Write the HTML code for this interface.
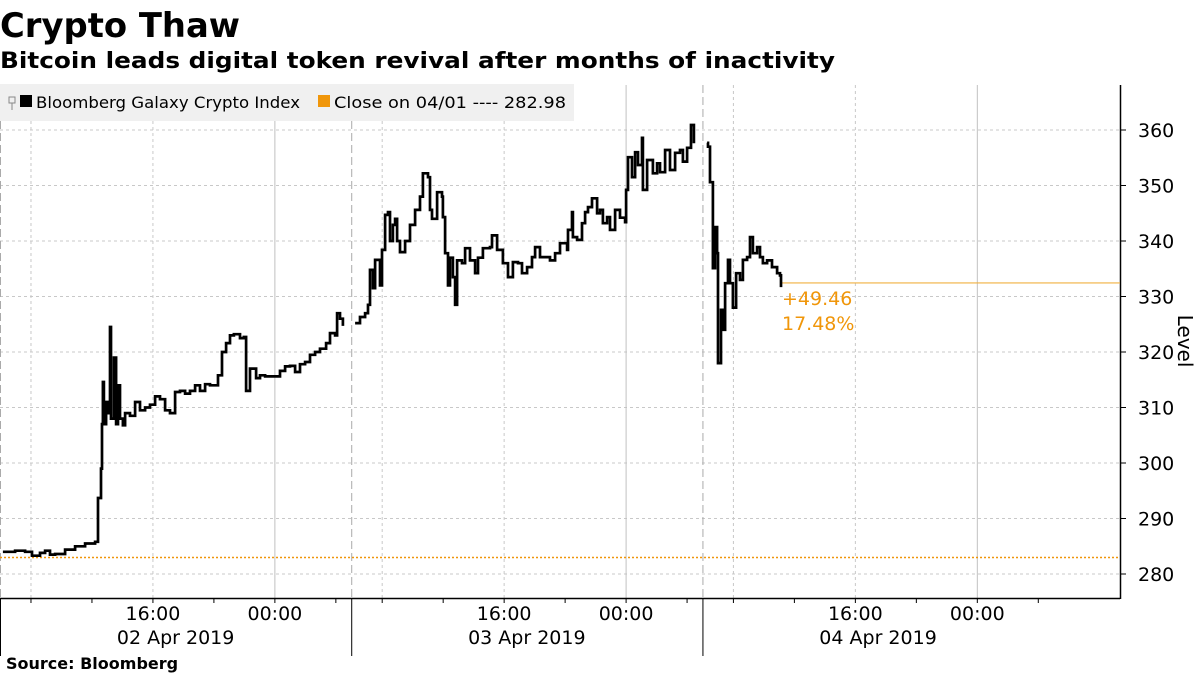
<!DOCTYPE html>
<html><head><meta charset="utf-8"><style>
html,body{margin:0;padding:0;background:#fff;}
svg{display:block;}
text{font-family:"DejaVu Sans","Liberation Sans",sans-serif;}
</style></head><body>
<svg id="chart" width="1200" height="675" viewBox="0 0 1200 675">
<text x="0" y="37" font-size="34" font-weight="bold" textLength="240" lengthAdjust="spacingAndGlyphs">Crypto Thaw</text>
<text x="0" y="68" font-size="22" font-weight="bold" textLength="835" lengthAdjust="spacingAndGlyphs">Bitcoin leads digital token revival after months of inactivity</text>
<g id="grid"></g>
<rect x="0" y="84" width="574" height="37" fill="#f0f0f0"/>
<g>
<rect x="9" y="97" width="6" height="6" fill="none" stroke="#888" stroke-width="1"/>
<line x1="12" y1="103" x2="12" y2="110" stroke="#888"/>
<rect x="20" y="95" width="12" height="12" fill="#000"/>
<text x="36" y="108" font-size="16" textLength="264" lengthAdjust="spacingAndGlyphs">Bloomberg Galaxy Crypto Index</text>
</g>
<g>
<rect x="318" y="95" width="12" height="12" fill="#f0960a"/>
<text x="334" y="108" font-size="16" textLength="232" lengthAdjust="spacingAndGlyphs">Close on 04/01 ---- 282.98</text>
</g>
<g id="axes"></g>
<g id="series"></g>
<text x="782" y="305" font-size="19" fill="#f0960a">+49.46</text>
<text x="782" y="330" font-size="19" fill="#f0960a">17.48%</text>
<text transform="translate(1178,341) rotate(90)" font-size="20" text-anchor="middle">Level</text>
<text x="6" y="669" font-size="16" font-weight="bold">Source: Bloomberg</text>
</svg>
<script>
// minutes since 02 Apr 2019 ~05:24 ; null = gap
const times = [12,62,103,131,164,185,205,226,267,308,349,390,398,402,414,418,422,426,435,443,451,455,467,476,484,492,504,513,533,554,574,595,615,636,656,677,697,718,738,759,779,800,820,841,861,882,894,910,927,943,959,984,1000,1009,1025,1050,1066,1087,1115,1148,1169,1189,1210,1230,1251,1271,1292,1312,1337,1353,1374,1382,1394,1406,null,
1456,1476,1497,1509,1517,1529,1538,1558,1566,1579,1591,1599,1611,1620,1628,1640,1661,1681,1702,1722,1734,1755,1763,1771,1792,1812,1816,1825,1837,1845,1857,1866,1874,1894,1907,1927,1948,1960,1980,2009,2017,2038,2062,2083,2103,2124,2140,2161,2181,2194,2214,2243,2255,2276,2296,2325,2329,2345,2349,2366,2386,2399,2411,2427,2448,2460,2472,2489,2501,2522,2542,2563,2567,2575,2591,2604,2616,2632,2636,2653,2677,2694,2706,2727,2747,2768,2788,2800,2817,2833,2845,null,
2899,2903,2911,2923,2932,2940,2944,2956,2964,2973,2985,2993,3005,3018,3034,3046,3063,3075,3087,3104,3116,3128,3145,3165,3186,3198,3202];
const values = [284,284.2,284,283.3,283.8,284.2,283.5,283.6,284.4,285,285.5,285.8,285.8,293.7,299,307,314.6,307,311,309,324.5,308,319,307,314,308,306.8,309,308.5,311,309.5,310,310.5,312,311.5,309.5,309,312.8,313,312.5,313,314,313,314.2,314,314,315.8,320,321.6,323,323.2,322.5,322.7,313,317,315.3,315.8,315.6,315.6,316.6,317.4,317.5,316.4,317.8,318.2,319.5,320,320.6,321.6,323.4,323,327,326,324.7,null,
325.2,326.3,327,328.5,334.8,331.5,336.6,332,338.4,344.7,345.2,340,342.9,344,340,338,340,342.9,345.6,348,352.2,351.5,345.6,344,348.8,348,344.3,337.8,332,337,333.5,328.5,336.5,336,338.7,336.5,334.2,337,338.7,338.9,341,338.4,336,333.5,336.2,336,334.2,335.3,337.1,338.9,337.1,337.1,336.5,337.8,339.6,338.4,342,345.2,340.7,340.2,343.2,345.2,346.1,347.7,345,345.6,343.2,344.3,342,345.6,344.2,343.4,349.2,355.1,351.5,356,353.7,358.6,349.2,354.6,352.2,354,352.4,356.4,352.8,355.9,356.4,354.3,356.8,360.9,357.6,null,
357.7,357,350.6,335.1,342.5,337.8,318,327.6,324,332.4,336.6,332.4,328,334.2,333,336.6,337.1,340.7,337.8,338.9,337.1,336,336.5,335.3,334.2,333.8,331.7];
const prevClose = 282.98;
const lastClose = 332.44;
const yTicks = [280,290,300,310,320,330,340,350,360];
const dayLabels = ["02 Apr 2019","03 Apr 2019","04 Apr 2019"];
const hourLabels = ["16:00","00:00"];

const NS="http://www.w3.org/2000/svg";
const X0=0,X1=1120,T0=0,T1=4592;
const Y0=574,V0=280,PXV=5.55;
const xs=t=>X0+(t-T0)/(T1-T0)*(X1-X0);
const ys=v=>Y0-(v-V0)*PXV;
function mk(tag,attrs,parent){const e=document.createElementNS(NS,tag);for(const k in attrs)e.setAttribute(k,attrs[k]);parent.appendChild(e);return e;}
const grid=document.getElementById('grid'),axes=document.getElementById('axes'),series=document.getElementById('series');
const DAY=1440;
yTicks.forEach(v=>{
 const l=mk('line',{x1:0,x2:X1,y1:ys(v),y2:ys(v),stroke:'#c8c8c8','stroke-dasharray':'3,3'},grid);
 
 
 const t=mk('text',{x:1138,y:ys(v)+7,'font-size':19},axes);
 t.textContent=v;
 
 
 mk('line',{x1:X1,x2:X1+6,y1:ys(v),y2:ys(v),stroke:'#000'},axes);
});
for(let d=0;d<3;d++){
 const s=d*DAY;
 [[127,'3,3','#c8c8c8'],[627,'3,3','#c8c8c8'],[1127,null,'#c0c0c0']].forEach(g=>{
  const a={x1:xs(s+g[0]),x2:xs(s+g[0]),y1:85,y2:598,stroke:g[2]};
  if(g[1])a['stroke-dasharray']=g[1];
  const l=mk('line',a,grid);
  
  
 });
 const sep=mk('line',{x1:xs(s)+0.5,x2:xs(s)+0.5,y1:85,y2:598,stroke:'#aaa','stroke-dasharray':'8,4'},grid);
 
 
 mk('line',{x1:xs(s)+0.5,x2:xs(s)+0.5,y1:598,y2:656,stroke:'#000'},axes);
 for(let m=127;m<DAY;m+=250){mk('line',{x1:xs(s+m),x2:xs(s+m),y1:598,y2:603,stroke:'#000'},axes);}
 [627,1127].forEach((m,i)=>{
  const t=mk('text',{x:xs(s+m),y:620,'font-size':19,'text-anchor':'middle'},axes);
  t.textContent=hourLabels[i];
  
  
 });
 const dl=mk('text',{x:xs(s+720),y:644,'font-size':19,'text-anchor':'middle'},axes);
 dl.textContent=dayLabels[d];
 
 
}
mk('line',{x1:0,x2:X1,y1:598.5,y2:598.5,stroke:'#000','stroke-width':1.5},axes);
mk('line',{x1:X1+0.5,x2:X1+0.5,y1:85,y2:599,stroke:'#000','stroke-width':1.5},axes);
const pc=mk('line',{x1:0,x2:X1,y1:ys(prevClose),y2:ys(prevClose),stroke:'#f0960a','stroke-width':1.5,'stroke-dasharray':'2,2'},series);


let lastT=0;times.forEach(t=>{if(t!==null)lastT=t;});
const lc=mk('line',{x1:xs(lastT),x2:X1,y1:ys(lastClose),y2:ys(lastClose),stroke:'#f0b040','stroke-width':1.2},series);


let pts=[];let prevY=null;
function flush(){if(pts.length){const p=mk('polyline',{points:pts.join(' '),fill:'none',stroke:'#000','stroke-width':2.7,'stroke-linejoin':'miter'},series);
 
 }pts=[];prevY=null;}
times.forEach((t,i)=>{
 if(t===null||values[i]===null){flush();return;}
 const x=xs(t).toFixed(1),y=ys(values[i]).toFixed(1);
 if(prevY!==null)pts.push(x+','+prevY);
 pts.push(x+','+y);prevY=y;
});
flush();
</script>
</body></html>
